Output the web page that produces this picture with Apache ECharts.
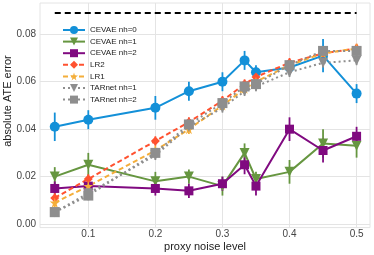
<!DOCTYPE html>
<html><head><meta charset="utf-8">
<script src="https://cdn.jsdelivr.net/npm/echarts@6/dist/echarts.min.js"></script>
<style>html,body{margin:0;padding:0;background:#fff}#c{width:374px;height:255px}</style>
</head><body><div id="c"></div>
<script>
const xs = [0.05, 0.1, 0.2, 0.25, 0.3, 0.333, 0.35, 0.4, 0.45, 0.5];
const names = ["CEVAE nh=0","CEVAE nh=1","CEVAE nh=2","LR2","LR1","TARnet nh=1","TARnet nh=2"];
const cevae0 = [0.041, 0.044, 0.049, 0.056, 0.060, 0.069, 0.064, 0.066, 0.071, 0.055];
const cevae0Err = [0.006, 0.004, 0.005, 0.004, 0.004, 0.004, 0.003, 0.003, 0.007, 0.004];
const cevae1 = [0.020, 0.025, 0.018, 0.020, 0.016, 0.030, 0.019, 0.022, 0.034, 0.033];
const cevae1Err = [0.004, 0.005, 0.004, 0.003, 0.004, 0.004, 0.003, 0.005, 0.006, 0.005];
const cevae2 = [0.015, 0.016, 0.015, 0.014, 0.017, 0.025, 0.016, 0.040, 0.031, 0.037];
const cevae2Err = [0.003, 0.002, 0.003, 0.003, 0.003, 0.004, 0.004, 0.005, 0.005, 0.004];
const lr2 = [0.011, 0.019, 0.035, 0.043, 0.052, 0.059, 0.062, 0.068, 0.072, 0.074];
const lr2Err = [0.002, 0.002, 0.002, 0.002, 0.002, 0.002, 0.002, 0.002, 0.002, 0.002];
const lr1 = [0.009, 0.016, 0.031, 0.040, 0.050, 0.057, 0.060, 0.067, 0.072, 0.074];
const lr1Err = [0.002, 0.002, 0.002, 0.002, 0.002, 0.002, 0.002, 0.002, 0.002, 0.002];
const tar1 = [0.005, 0.013, 0.029, 0.041, 0.049, 0.056, 0.058, 0.064, 0.068, 0.069];
const tar1Err = [0.001, 0.002, 0.002, 0.002, 0.002, 0.002, 0.002, 0.002, 0.002, 0.002];
const tar2 = [0.005, 0.012, 0.030, 0.042, 0.051, 0.058, 0.059, 0.067, 0.073, 0.073];
const tar2Err = [0.001, 0.002, 0.002, 0.002, 0.002, 0.002, 0.002, 0.002, 0.002, 0.002];
const refLineX = [0.05, 0.5];
const refLineY = 0.089;
const xTicks = [0.1, 0.2, 0.3, 0.4, 0.5];
const yTicks = [0.00, 0.02, 0.04, 0.06, 0.08];
const xName = 'proxy noise level';
const yName = 'absolute ATE error';

const FONT = 'Liberation Sans';
const star = 'path://M50,0 L61,35 L98,35 L68,57 L79,91 L50,70 L21,91 L32,57 L2,35 L39,35 Z';
const cfg = [
  {v: cevae0, e: cevae0Err, color: '#1390d8', sym: 'circle', size: 10, type: 'solid'},
  {v: cevae1, e: cevae1Err, color: '#669640', sym: 'triangle', rot: 180, size: 10, type: 'solid'},
  {v: cevae2, e: cevae2Err, color: '#800a80', sym: 'rect', size: 9, type: 'solid'},
  {v: lr2, e: lr2Err, color: '#ff5230', sym: 'diamond', size: 9, type: [5,3]},
  {v: lr1, e: lr1Err, color: '#f4ae3a', sym: star, size: 10, type: [5,3]},
  {v: tar1, e: tar1Err, color: '#8e8e8e', sym: 'triangle', rot: 180, size: 10, type: [2,3]},
  {v: tar2, e: tar2Err, color: '#8e8e8e', sym: 'rect', size: 10, type: [2,3]}
];

const series = [];
cfg.forEach((c, i) => {
  series.push({
    type: 'custom', name: names[i] + ' err', silent: true, z: 2,
    data: xs.map((x, k) => [x, c.v[k] - c.e[k], c.v[k] + c.e[k]]),
    renderItem: (params, api) => {
      const p1 = api.coord([api.value(0), api.value(1)]);
      const p2 = api.coord([api.value(0), api.value(2)]);
      return {type: 'line', shape: {x1: p1[0], y1: p1[1], x2: p2[0], y2: p2[1]},
        style: {stroke: c.color, lineWidth: 1.8}};
    }
  });
  series.push({
    type: 'line', name: names[i], z: 3,
    data: xs.map((x, k) => [x, c.v[k]]),
    symbol: c.sym, symbolSize: c.size, symbolRotate: c.rot || 0, showAllSymbol: true,
    lineStyle: {color: c.color, width: 2, type: c.type},
    itemStyle: {color: c.color, borderWidth: 0},
    emphasis: {disabled: true}
  });
});
series.push({
  type: 'line', name: 'ref', z: 1, symbol: 'none',
  data: refLineX.map(x => [x, refLineY]),
  lineStyle: {color: '#000', width: 2, type: [6,4]}
});

const chart = echarts.init(document.getElementById('c'), null, {renderer: 'canvas'});
chart.setOption({
  animation: false,
  backgroundColor: '#fff',
  grid: {left: 40, right: 4, top: 3, bottom: 27.4, show: true, borderColor: '#e4e4e4', borderWidth: 1, containLabel: false, outerBoundsMode: 'none'},
  legend: {
    data: names, orient: 'vertical', left: 57, top: 21, itemGap: 3.6,
    itemWidth: 22, itemHeight: 10,
    textStyle: {fontFamily: FONT, fontSize: 8, color: '#222'}
  },
  graphic: [
    {type: 'text', x: 8, y: 101, rotation: Math.PI/2,
     style: {text: yName, font: '11px "Liberation Sans"', fill: '#222', align: 'center', verticalAlign: 'middle'}},
    {type: 'text', x: 205, y: 247,
     style: {text: xName, font: '11px "Liberation Sans"', fill: '#222', align: 'center', verticalAlign: 'middle'}}
  ],
  xAxis: {
    type: 'value', min: 0.028, max: 0.52,
    axisLine: {show: false}, axisTick: {show: false, customValues: xTicks},
    axisLabel: {customValues: xTicks, formatter: v => String(Math.round(v*10)/10), fontFamily: FONT, fontSize: 10, color: '#444', margin: 2},
    splitLine: {show: true, lineStyle: {color: '#e4e4e4', width: 1}}
  },
  yAxis: {
    type: 'value', min: -0.0015, max: 0.0932,
    axisLine: {show: false}, axisTick: {show: false, customValues: yTicks},
    axisLabel: {customValues: yTicks, formatter: v => v.toFixed(2), fontFamily: FONT, fontSize: 10, color: '#444', margin: 4},
    splitLine: {show: true, lineStyle: {color: '#e4e4e4', width: 1}}
  },
  series: series
});
</script></body></html>
